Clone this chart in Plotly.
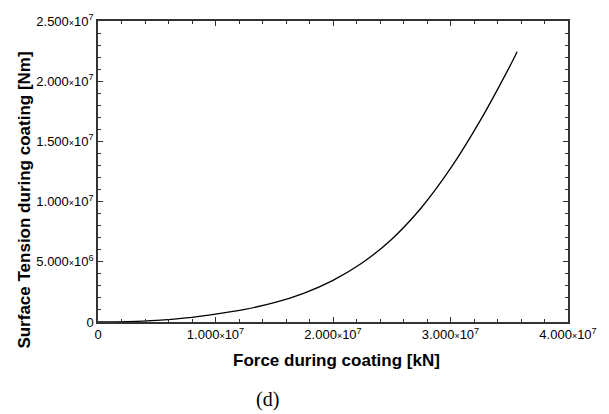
import plotly.graph_objects as go

# Data (raw values)
force = [0.0, 0.25e7, 0.5e7, 0.75e7, 1.0e7, 1.25e7, 1.5e7, 1.75e7, 2.0e7, 2.25e7,
         2.5e7, 2.75e7, 3.0e7, 3.25e7, 3.5e7, 3.567e7]
tension = [0.0, 0.003e7, 0.013e7, 0.034e7, 0.066e7, 0.105e7, 0.160e7, 0.238e7, 0.346e7, 0.492e7,
           0.688e7, 0.947e7, 1.275e7, 1.668e7, 2.115e7, 2.245e7]

x_tickvals = [0, 1e7, 2e7, 3e7, 4e7]
x_mant = ["0", "1.000", "2.000", "3.000", "4.000"]
x_exp = [None, 7, 7, 7, 7]
y_tickvals = [0, 5e6, 1e7, 1.5e7, 2e7, 2.5e7]
y_mant = ["0", "5.000", "1.000", "1.500", "2.000", "2.500"]
y_exp = [None, 6, 7, 7, 7, 7]


def sci_label(m, e):
    if e is None:
        return m
    return f"{m}<span style='font-size:9px'>×</span>10<sup>{e}</sup>"


x_ticktext = [sci_label(m, e) for m, e in zip(x_mant, x_exp)]
y_ticktext = [sci_label(m, e) for m, e in zip(y_mant, y_exp)]

fig = go.Figure()
fig.add_trace(go.Scatter(x=force, y=tension, mode="lines",
                         line=dict(color="black", width=1.3, shape="spline", smoothing=0.8),
                         showlegend=False))

axis_common = dict(
    showgrid=False, zeroline=False, showline=True, linecolor="#333333", linewidth=1.5,
    mirror="allticks", ticks="inside", ticklen=5, tickwidth=1, tickcolor="#333333",
    tickfont=dict(family="Liberation Sans, Arial", size=13, color="black"),
)

fig.update_layout(
    width=609, height=414,
    margin=dict(l=98, r=33, t=18, b=92),
    paper_bgcolor="white", plot_bgcolor="white",
    xaxis=dict(range=[0, 4e7], tickvals=x_tickvals, ticktext=x_ticktext,
               minor=dict(dtick=2e6, ticks="inside", ticklen=3, tickcolor="#333333"),
               **axis_common),
    yaxis=dict(range=[0, 2.5e7], tickvals=y_tickvals, ticktext=y_ticktext,
               minor=dict(dtick=1e6, ticks="inside", ticklen=3, tickcolor="#333333"),
               **axis_common),
)

title_font = dict(family="Liberation Sans, Arial", size=17, color="black")
fig.add_annotation(text="<b>Force during coating [kN]</b>", xref="paper", yref="paper",
                   x=0.508, y=-0.127, xanchor="center", yanchor="middle",
                   showarrow=False, font=title_font)
fig.add_annotation(text="<b>Surface Tension during coating [Nm]</b>", xref="paper", yref="paper",
                   x=-0.157, y=0.404, xanchor="center", yanchor="middle", textangle=-90,
                   showarrow=False, font=title_font)
fig.add_annotation(text="(d)", xref="paper", yref="paper", x=0.36, y=-0.259,
                   xanchor="center", yanchor="middle", showarrow=False,
                   font=dict(family="Liberation Serif, Times New Roman", size=20, color="black"))

fig.write_html("out.html")
